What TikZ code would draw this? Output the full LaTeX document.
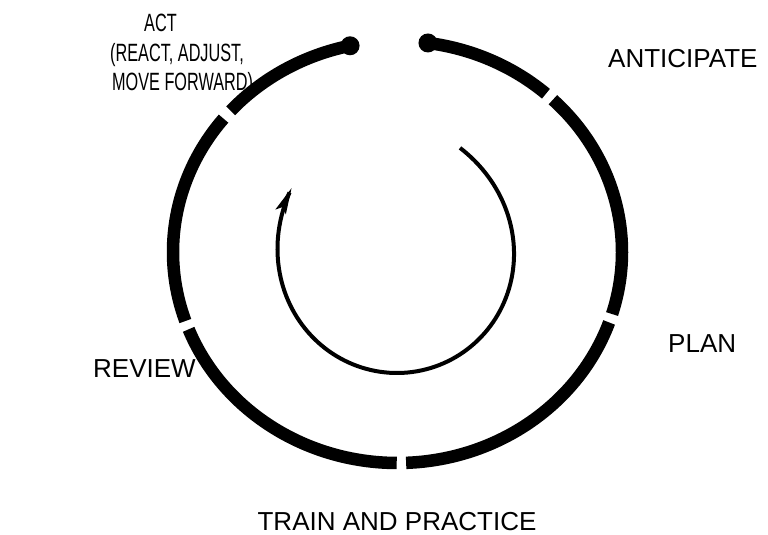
\documentclass[tikz,border=0pt]{standalone}
\usepackage{fontspec}
\setmainfont{Liberation Sans}
\newfontfamily\condsans[FakeStretch=0.65]{Liberation Sans}
\usetikzlibrary{arrows.meta,calc}
\begin{document}
\begin{tikzpicture}[x=1pt,y=1pt,
  ring/.style={line width=12.5pt,line cap=butt},
  inner/.style={line width=4pt,-{Stealth[length=26pt,width=11pt,inset=5pt]}},
  lbl/.style={inner sep=0pt,font=\fontsize{26}{30}\selectfont},
  actlbl/.style={inner sep=0pt,font=\condsans\fontsize{25}{29}\selectfont},
  enddot/.style={fill=black}]
\useasboundingbox (0,0) rectangle (768,-535);
\coordinate (c) at (397.5,-252);
\def\rx{224.5}\def\ry{211}
% outer ring segments
\draw[ring] ($(c)+(48.6:\rx pt and \ry pt)$) arc[start angle=48.6,end angle=82.2,x radius=\rx,y radius=\ry] coordinate (dotR);
\draw[ring] ($(c)+(-17.1:\rx pt and \ry pt)$) arc[start angle=-17.1,end angle=46.2,x radius=\rx,y radius=\ry];
\draw[ring] ($(c)+(-87.8:\rx pt and \ry pt)$) arc[start angle=-87.8,end angle=-19.5,x radius=\rx,y radius=\ry];
\draw[ring] ($(c)+(-158.5:\rx pt and \ry pt)$) arc[start angle=-158.5,end angle=-90.2,x radius=\rx,y radius=\ry];
\draw[ring] ($(c)+(140.8:\rx pt and \ry pt)$) arc[start angle=140.8,end angle=199.1,x radius=\rx,y radius=\ry];
\draw[ring] ($(c)+(102.2:\rx pt and \ry pt)$) coordinate (dotL) arc[start angle=102.2,end angle=138.0,x radius=\rx,y radius=\ry];
\fill[enddot] (dotR) circle (9.5pt);
\fill[enddot] (dotL) circle (9.5pt);
% inner cycle arrow (slight spiral)
\draw[inner] plot[domain=60:-213.3,samples=120]
  ({397+(116+10*((\x+76.65)/136.65)^4)*cos(\x)},{-257+(116+10*((\x+76.65)/136.65)^4)*sin(\x)});
% labels
\node[actlbl,anchor=base west] (act1) at (144,-32) {ACT};
\node[actlbl,anchor=base west] (act2) at (110,-62) {(REACT, ADJUST,};
\node[actlbl,anchor=base west] (act3) at (112,-90) {MOVE FORWARD)};
\node[lbl,anchor=base west] (anticipate) at (608,-67) {ANTICIPATE};
\node[lbl,anchor=base west] (plan) at (668,-352) {PLAN};
\node[lbl,anchor=base west] (review) at (93,-377) {REVIEW};
\node[lbl,anchor=base] (train) at (397,-530) {TRAIN AND PRACTICE};
\end{tikzpicture}
\end{document}
